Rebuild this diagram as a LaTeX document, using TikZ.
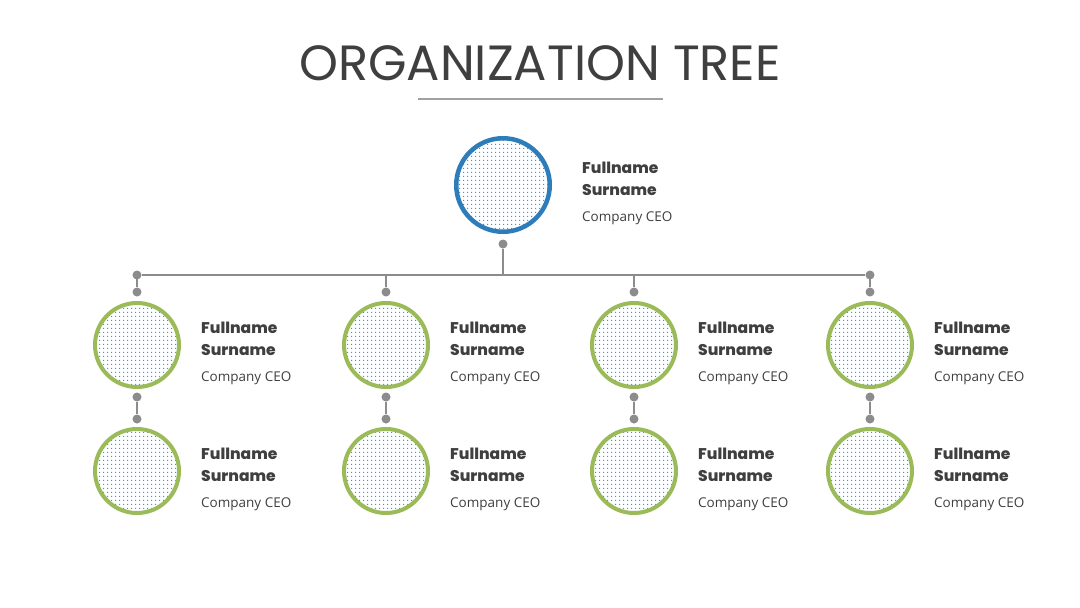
\documentclass[tikz,border=0pt]{standalone}
\usepackage{fontspec}
\setmainfont{Open Sans}
\newfontfamily\poppins{Poppins}
\newfontfamily\poppinsheavy{Poppins ExtraBold}
\usetikzlibrary{positioning,patterns.meta}
\definecolor{ink}{HTML}{3F3F3F}
\definecolor{wire}{HTML}{8C8C8C}
\definecolor{rule}{HTML}{A0A0A0}
\definecolor{ceoblue}{HTML}{2E7DBB}
\definecolor{leafgreen}{HTML}{9BBB59}
\definecolor{dotblue}{HTML}{3F84C2}
\begin{document}
\begin{tikzpicture}[x=1pt,y=-1pt,
disc/.style={circle,inner sep=0pt,minimum size=84pt,line width=4pt,draw=leafgreen,pattern color=dotblue,pattern={Dots[radius=.8pt,distance=4pt]}},
boss/.style={disc,minimum size=93.5pt,line width=4.5pt,draw=ceoblue},
knob/.style={circle,fill=wire,inner sep=0pt,minimum size=9pt},
link/.style={draw=wire,line width=1.8pt},
who/.style={anchor=base west,inner sep=0pt,align=left,text=ink,font=\poppinsheavy\fontsize{15.5}{22}\selectfont},
job/.style={anchor=base west,inner sep=0pt,text=ink,font=\fontsize{13.5}{16}\selectfont}]
\useasboundingbox[fill=white](0,0) rectangle (1080,608);
% title
\node[anchor=base,inner sep=0pt,text=ink,font=\poppins\fontsize{49.5}{56}\selectfont](title) at (540,80){ORGANIZATION TREE};
\draw[rule,line width=2pt](418,99)--(663,99);
% head of the tree
\node[boss](ceo) at (503,185){};
\node[who](wceo) at ([shift={(79,10)}]ceo.center){Fullname\\Surname};
\node[job](jceo) at ([yshift=-26pt]wceo.base west){Company CEO};
\node[knob](d0) at (503,244){};
\node[knob](t1) at (137,275){};\node[knob](t4) at (870,275){};
\draw[link](t1)--(t4);\draw[link](d0)--(d0|-t1);
% the four columns
\foreach \i/\x in {1/137,2/386,3/634,4/870}{
\node[disc](a\i) at (\x,345){};\node[disc](b\i) at (\x,471){};
\node[knob](u\i) at (\x,292){};\node[knob](m\i) at (\x,397){};\node[knob](n\i) at (\x,419){};
\draw[link](u\i|-t1)--(u\i);\draw[link](m\i)--(n\i);
\node[who](wa\i) at ([shift={(64,10)}]a\i.center){Fullname\\Surname};
\node[job](ja\i) at ([yshift=-26pt]wa\i.base west){Company CEO};
\node[who](wb\i) at ([shift={(64,10)}]b\i.center){Fullname\\Surname};
\node[job](jb\i) at ([yshift=-26pt]wb\i.base west){Company CEO};
}
\end{tikzpicture}
\end{document}
